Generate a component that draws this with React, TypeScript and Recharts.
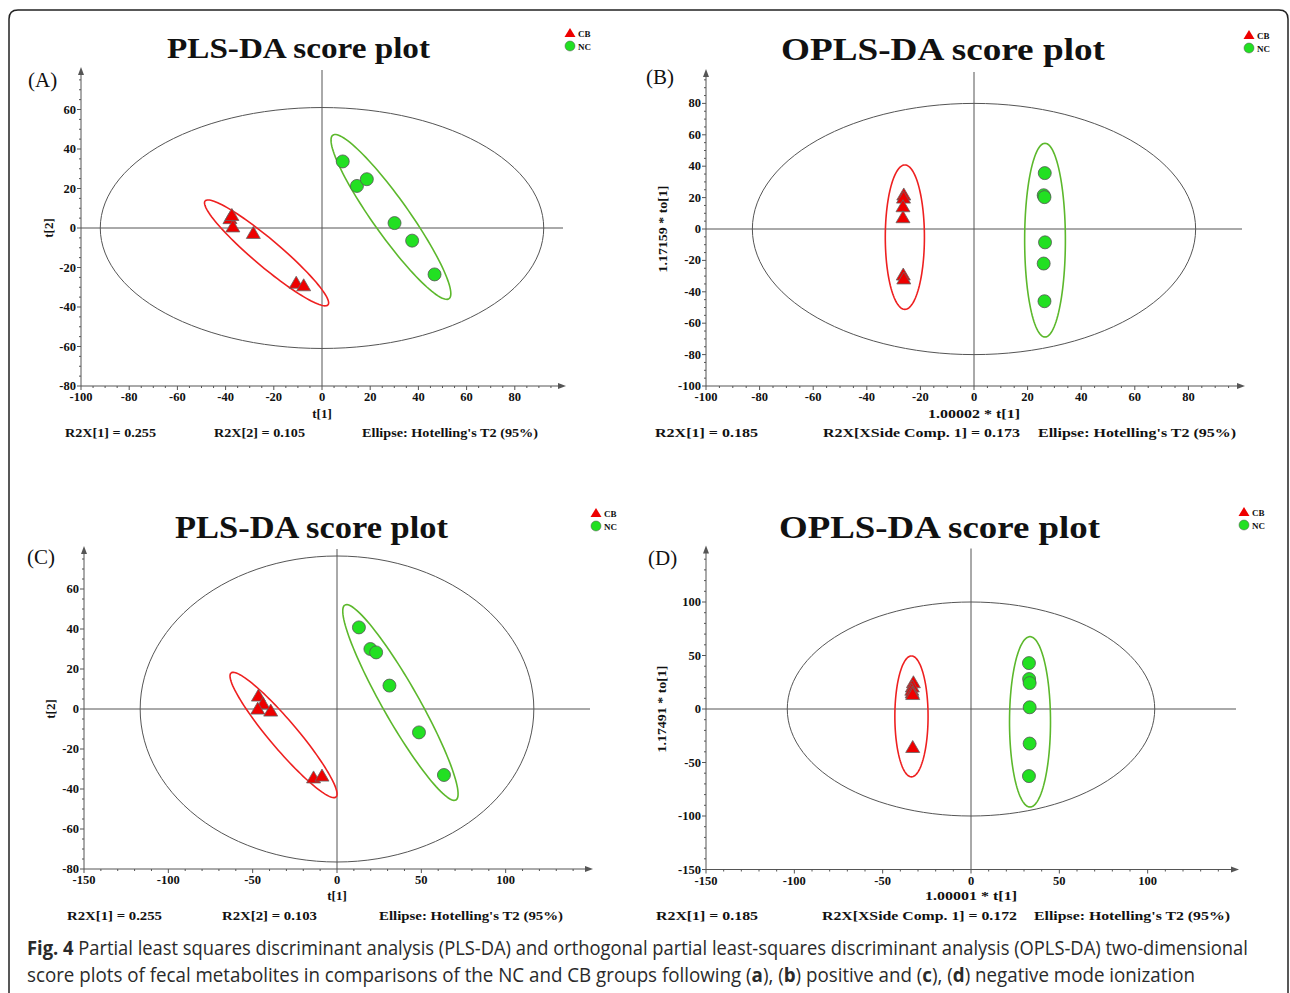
import React, { useLayoutEffect, useRef, useState } from 'react';
import { ScatterChart, Scatter, XAxis, YAxis, ReferenceLine, ReferenceDot } from 'recharts';

// ---------- DATA ----------
// Panel A: PLS-DA (positive)
const plsPosCB = [
  { x: -38.2, y: 5.0 }, { x: -37.4, y: 6.6 }, { x: -37.0, y: 0.8 },
  { x: -28.5, y: -2.5 }, { x: -10.7, y: -27.7 }, { x: -7.6, y: -29.0 },
];
const plsPosNC = [
  { x: 8.6, y: 33.7 }, { x: 14.5, y: 21.3 }, { x: 18.6, y: 24.7 },
  { x: 30.1, y: 2.5 }, { x: 37.4, y: -6.4 }, { x: 46.7, y: -23.5 },
];
// Panel B: OPLS-DA (positive)
const oplsPosCB = [
  { x: -26.2, y: 22.0 }, { x: -26.3, y: 20.0 }, { x: -26.5, y: 14.5 },
  { x: -26.5, y: 7.5 }, { x: -26.4, y: -29.0 }, { x: -26.2, y: -31.5 },
];
const oplsPosNC = [
  { x: 26.4, y: 35.6 }, { x: 26.0, y: 21.5 }, { x: 26.3, y: 20.3 },
  { x: 26.5, y: -8.5 }, { x: 26.0, y: -22.0 }, { x: 26.3, y: -46.0 },
];
// Panel C: PLS-DA (negative)
const plsNegCB = [
  { x: -46.6, y: 6.7 }, { x: -43.9, y: 2.8 }, { x: -47.0, y: 0.2 },
  { x: -39.3, y: -0.8 }, { x: -13.9, y: -34.2 }, { x: -8.9, y: -33.3 },
];
const plsNegNC = [
  { x: 13.0, y: 40.8 }, { x: 19.8, y: 30.0 }, { x: 23.2, y: 28.3 },
  { x: 31.1, y: 11.7 }, { x: 48.6, y: -11.7 }, { x: 63.4, y: -33.0 },
];
// Panel D: OPLS-DA (negative)
const oplsNegCB = [
  { x: -32.6, y: 25.0 }, { x: -33.2, y: 21.0 }, { x: -33.5, y: 18.0 },
  { x: -33.3, y: 15.5 }, { x: -33.0, y: 14.0 }, { x: -33.0, y: -35.5 },
];
const oplsNegNC = [
  { x: 32.8, y: 42.9 }, { x: 32.9, y: 28.0 }, { x: 33.2, y: 24.2 },
  { x: 33.2, y: 1.6 }, { x: 33.2, y: -32.3 }, { x: 32.8, y: -62.7 },
];

// Ellipses: centre + semi-axis vectors (data units)
const ellipsesA = [
  { cx: 0, cy: 0, ax: 92, ay: 0, bx: 0, by: 61, kind: 'all' },
  { cx: -23.0, cy: -12.6, ax: -25.5, ay: 26.3, bx: 3.6, by: 5.2, kind: 'cb' },
  { cx: 28.6, cy: 5.6, ax: -24.1, ay: 41.4, bx: 6.1, by: 5.25, kind: 'nc' },
];
const ellipsesB = [
  { cx: 0, cy: 0, ax: 82.7, ay: 0, bx: 0, by: 80, kind: 'all' },
  { cx: -25.8, cy: -5.2, ax: 0, ay: 46, bx: 7.3, by: 0, kind: 'cb' },
  { cx: 26.5, cy: -7.1, ax: 0, ay: 61.7, bx: 7.6, by: 0, kind: 'nc' },
];
const ellipsesC = [
  { cx: 0, cy: 0, ax: 116.7, ay: 0, bx: 0, by: 76.5, kind: 'all' },
  { cx: -31.7, cy: -13.0, ax: -31.1, ay: 31.0, bx: 6.3, by: 4.5, kind: 'cb' },
  { cx: 37.6, cy: 3.25, ax: -32.9, ay: 48.75, bx: 9.3, by: 4.45, kind: 'nc' },
];
const ellipsesD = [
  { cx: 0, cy: 0, ax: 104, ay: 0, bx: 0, by: 100, kind: 'all' },
  { cx: -33.7, cy: -6.9, ax: 0, ay: 56.5, bx: 9.4, by: 0, kind: 'cb' },
  { cx: 33.4, cy: -12.0, ax: 0, ay: 79.6, bx: 11.6, by: 0, kind: 'nc' },
];

// Major tick labels
const ticksX_A = [-100, -80, -60, -40, -20, 0, 20, 40, 60, 80];
const ticksY_A = [-80, -60, -40, -20, 0, 20, 40, 60];
const ticksX_B = [-100, -80, -60, -40, -20, 0, 20, 40, 60, 80];
const ticksY_B = [-100, -80, -60, -40, -20, 0, 20, 40, 60, 80];
const ticksX_C = [-150, -100, -50, 0, 50, 100];
const ticksY_C = [-80, -60, -40, -20, 0, 20, 40, 60];
const ticksX_D = [-150, -100, -50, 0, 50, 100];
const ticksY_D = [-150, -100, -50, 0, 50, 100];

// ---------- STYLE ----------
const SERIF = '"Liberation Serif", "Times New Roman", serif';
const AXIS = '#555';
const RED = '#ee0000';
const GREEN = '#22e022';
const ELL_COLOR: Record<string, string> = { all: '#555', cb: '#ee2020', nc: '#5cb82c' };
const ELL_WIDTH: Record<string, number> = { all: 1, cb: 1.6, nc: 1.6 };
const YW = 40; // y-axis width
const XH = 30; // x-axis height

function ellipsePts(e: any, n = 120) {
  const pts = [];
  for (let i = 0; i <= n; i++) {
    const t = (2 * Math.PI * i) / n;
    pts.push({ x: e.cx + e.ax * Math.cos(t) + e.bx * Math.sin(t), y: e.cy + e.ay * Math.cos(t) + e.by * Math.sin(t) });
  }
  return pts;
}

function minorTicks(domain: number[], step: number) {
  const out: number[] = [];
  for (let v = domain[0]; v < domain[1] - 1e-9; v += step) out.push(Math.round(v * 1000) / 1000);
  return out;
}

const makeXTick = (majors: number[]) => (p: any) => {
  const { x, y, payload } = p;
  const major = majors.includes(payload.value);
  return (
    <g>
      <line x1={x} x2={x} y1={y} y2={y + (major ? 4 : 2)} stroke={AXIS} strokeWidth={1} />
      {major && (
        <text x={x} y={y + 15} textAnchor="middle" fontFamily={SERIF} fontWeight="bold" fontSize={12.5} fill="#111">
          {payload.value}
        </text>
      )}
    </g>
  );
};
const makeYTick = (majors: number[]) => (p: any) => {
  const { x, y, payload } = p;
  const major = majors.includes(payload.value);
  return (
    <g>
      <line x1={x - (major ? 4 : 2)} x2={x} y1={y} y2={y} stroke={AXIS} strokeWidth={1} />
      {major && (
        <text x={x - 5} y={y + 4} textAnchor="end" fontFamily={SERIF} fontWeight="bold" fontSize={12.5} fill="#111">
          {payload.value}
        </text>
      )}
    </g>
  );
};

const Triangle = (p: any) => {
  const { cx, cy } = p;
  if (cx == null || cy == null) return <g />;
  return <polygon points={`${cx},${cy - 6.5} ${cx + 7},${cy + 5.5} ${cx - 7},${cy + 5.5}`} fill={RED} stroke="#666" strokeWidth={0.8} />;
};
const Dot = (p: any) => {
  const { cx, cy } = p;
  if (cx == null || cy == null) return <g />;
  return <circle cx={cx} cy={cy} r={6.5} fill={GREEN} stroke="#555" strokeWidth={0.8} />;
};
const NoShape = () => <g />;

const ArrowRight = (p: any) => <path d={`M${p.cx + 3},${p.cy} L${p.cx - 5},${p.cy - 3} L${p.cx - 5},${p.cy + 3} Z`} fill={AXIS} />;
const ArrowUp = (p: any) => <path d={`M${p.cx},${p.cy - 3} L${p.cx - 3},${p.cy + 5} L${p.cx + 3},${p.cy + 5} Z`} fill={AXIS} />;

type PanelProps = {
  left: number; top: number; width: number; height: number;
  plot: { top: number; right: number; bottom: number; left: number };
  xDomain: number[]; yDomain: number[]; xMajor: number[]; yMajor: number[];
  xStep: number; yStep: number; cb: any[]; nc: any[]; ellipses: any[];
};

function Panel(props: PanelProps) {
  const { left, top, width, height, plot, xDomain, yDomain, xMajor, yMajor, xStep, yStep, cb, nc, ellipses } = props;
  const margin = { top: plot.top, right: plot.right, bottom: plot.bottom - XH, left: plot.left - YW };
  return (
    <div style={{ position: 'absolute', left, top, width, height }}>
      <ScatterChart width={width} height={height} margin={margin}>
        <XAxis
          type="number" dataKey="x" domain={xDomain} allowDataOverflow
          ticks={minorTicks(xDomain, xStep)} interval={0} height={XH}
          tickSize={0} tickMargin={0} tickLine={false}
          axisLine={{ stroke: AXIS, strokeWidth: 1 }}
          tick={makeXTick(xMajor)}
        />
        <YAxis
          type="number" dataKey="y" domain={yDomain} allowDataOverflow
          ticks={minorTicks(yDomain, yStep)} interval={0} width={YW}
          tickSize={0} tickMargin={0} tickLine={false}
          axisLine={{ stroke: AXIS, strokeWidth: 1 }}
          tick={makeYTick(yMajor)}
        />
        <ReferenceLine x={0} stroke={AXIS} strokeWidth={1} />
        <ReferenceLine y={0} stroke={AXIS} strokeWidth={1} />
        {ellipses.map((e, i) => (
          <Scatter
            key={'e' + i} data={ellipsePts(e)} shape={NoShape}
            line={{ stroke: ELL_COLOR[e.kind], strokeWidth: ELL_WIDTH[e.kind], fill: 'none' }}
            lineType="joint" isAnimationActive={false}
          />
        ))}
        <Scatter data={cb} shape={Triangle} isAnimationActive={false} />
        <Scatter data={nc} shape={Dot} isAnimationActive={false} />
        <ReferenceDot x={xDomain[1]} y={yDomain[0]} r={0} shape={ArrowRight} ifOverflow="visible" />
        <ReferenceDot x={xDomain[0]} y={yDomain[1]} r={0} shape={ArrowUp} ifOverflow="visible" />
      </ScatterChart>
    </div>
  );
}

const T = (p: any) => <text fontFamily={SERIF} fill="#111" {...p} />;

function Legend({ x, y }: { x: number; y: number }) {
  return (
    <g>
      <polygon points={`${x},${y - 5} ${x + 5.5},${y + 4} ${x - 5.5},${y + 4}`} fill={RED} />
      <T x={x + 8} y={y + 3.5} fontSize={9} fontWeight="bold">CB</T>
      <circle cx={x} cy={y + 13} r={5} fill={GREEN} stroke="#555" strokeWidth={0.5} />
      <T x={x + 8} y={y + 16.5} fontSize={9} fontWeight="bold">NC</T>
    </g>
  );
}

function FitLine({ left, top, width, children }: { left: number; top: number; width: number; children: React.ReactNode }) {
  const ref = useRef<HTMLDivElement>(null);
  const [scale, setScale] = useState(1);
  useLayoutEffect(() => {
    if (ref.current) {
      const w = ref.current.scrollWidth;
      if (w > 0) setScale(width / w);
    }
  }, [width]);
  return (
    <div
      ref={ref}
      style={{
        position: 'absolute', left, top, whiteSpace: 'nowrap', fontFamily: '"Open Sans", sans-serif',
        fontSize: 19.5, lineHeight: '22px', color: '#2a2a2a', transform: `scaleX(${scale})`, transformOrigin: 'left top',
      }}
    >
      {children}
    </div>
  );
}

export default function App() {
  return (
    <div style={{ position: 'absolute', left: 0, top: 0, width: 1290, height: 993, background: '#fff', overflow: 'hidden' }}>
      <Panel left={0} top={0} width={640} height={470} plot={{ top: 70, right: 77, bottom: 84, left: 81 }}
        xDomain={[-100, 100]} yDomain={[-80, 80]} xMajor={ticksX_A} yMajor={ticksY_A} xStep={5} yStep={5}
        cb={plsPosCB} nc={plsPosNC} ellipses={ellipsesA} />
      <Panel left={640} top={0} width={650} height={470} plot={{ top: 72, right: 48, bottom: 84, left: 66 }}
        xDomain={[-100, 100]} yDomain={[-100, 100]} xMajor={ticksX_B} yMajor={ticksY_B} xStep={5} yStep={5}
        cb={oplsPosCB} nc={oplsPosNC} ellipses={ellipsesB} />
      <Panel left={0} top={470} width={640} height={470} plot={{ top: 79, right: 50, bottom: 71, left: 84 }}
        xDomain={[-150, 150]} yDomain={[-80, 80]} xMajor={ticksX_C} yMajor={ticksY_C} xStep={10} yStep={5}
        cb={plsNegCB} nc={plsNegNC} ellipses={ellipsesC} />
      <Panel left={640} top={470} width={650} height={470} plot={{ top: 78.5, right: 54, bottom: 70.5, left: 66 }}
        xDomain={[-150, 150]} yDomain={[-150, 150]} xMajor={ticksX_D} yMajor={ticksY_D} xStep={10} yStep={10}
        cb={oplsNegCB} nc={oplsNegNC} ellipses={ellipsesD} />

      <svg width={1290} height={993} style={{ position: 'absolute', left: 0, top: 0, pointerEvents: 'none' }}>
        <path d="M9,1000 L9,19 Q9,10 18,10 L1279,10 Q1288,10 1288,19 L1288,1000" fill="none" stroke="#222" strokeWidth={1.5} />

        {/* Titles */}
        <T x={167} y={58} fontSize={30} fontWeight="bold" textLength={263} lengthAdjust="spacingAndGlyphs">PLS-DA score plot</T>
        <T x={781} y={60} fontSize={32} fontWeight="bold" textLength={324} lengthAdjust="spacingAndGlyphs">OPLS-DA score plot</T>
        <T x={175} y={538} fontSize={31} fontWeight="bold" textLength={273} lengthAdjust="spacingAndGlyphs">PLS-DA score plot</T>
        <T x={779} y={538} fontSize={32} fontWeight="bold" textLength={321} lengthAdjust="spacingAndGlyphs">OPLS-DA score plot</T>

        {/* Panel letters */}
        <T x={28} y={87} fontSize={21}>(A)</T>
        <T x={646} y={84} fontSize={21}>(B)</T>
        <T x={27} y={564} fontSize={21}>(C)</T>
        <T x={648} y={565} fontSize={21}>(D)</T>

        {/* Legends */}
        <Legend x={570} y={33} />
        <Legend x={1249} y={35} />
        <Legend x={596} y={513} />
        <Legend x={1244} y={512} />

        {/* Axis titles */}
        <T x={322} y={418} fontSize={13} fontWeight="bold" textAnchor="middle">t[1]</T>
        <T x={974} y={418} fontSize={13} fontWeight="bold" textAnchor="middle" textLength={92} lengthAdjust="spacingAndGlyphs">1.00002 * t[1]</T>
        <T x={337} y={900} fontSize={13} fontWeight="bold" textAnchor="middle">t[1]</T>
        <T x={971} y={900} fontSize={13} fontWeight="bold" textAnchor="middle" textLength={92} lengthAdjust="spacingAndGlyphs">1.00001 * t[1]</T>
        <T x={0} y={0} fontSize={13} fontWeight="bold" textAnchor="middle" transform="translate(53,228) rotate(-90)">t[2]</T>
        <T x={0} y={0} fontSize={13} fontWeight="bold" textAnchor="middle" textLength={87} lengthAdjust="spacingAndGlyphs" transform="translate(667,229) rotate(-90)">1.17159 * to[1]</T>
        <T x={0} y={0} fontSize={13} fontWeight="bold" textAnchor="middle" transform="translate(55,709) rotate(-90)">t[2]</T>
        <T x={0} y={0} fontSize={13} fontWeight="bold" textAnchor="middle" textLength={87} lengthAdjust="spacingAndGlyphs" transform="translate(666,709) rotate(-90)">1.17491 * to[1]</T>

        {/* Stats */}
        <T x={65} y={437} fontSize={13} fontWeight="bold" textLength={91} lengthAdjust="spacingAndGlyphs">R2X[1] = 0.255</T>
        <T x={214} y={437} fontSize={13} fontWeight="bold" textLength={91} lengthAdjust="spacingAndGlyphs">R2X[2] = 0.105</T>
        <T x={362} y={437} fontSize={13} fontWeight="bold" textLength={176} lengthAdjust="spacingAndGlyphs">Ellipse: Hotelling's T2 (95%)</T>
        <T x={655} y={437} fontSize={13} fontWeight="bold" textLength={103} lengthAdjust="spacingAndGlyphs">R2X[1] = 0.185</T>
        <T x={823} y={437} fontSize={13} fontWeight="bold" textLength={197} lengthAdjust="spacingAndGlyphs">R2X[XSide Comp. 1] = 0.173</T>
        <T x={1038} y={437} fontSize={13} fontWeight="bold" textLength={198} lengthAdjust="spacingAndGlyphs">Ellipse: Hotelling's T2 (95%)</T>
        <T x={67} y={920} fontSize={13} fontWeight="bold" textLength={95} lengthAdjust="spacingAndGlyphs">R2X[1] = 0.255</T>
        <T x={222} y={920} fontSize={13} fontWeight="bold" textLength={95} lengthAdjust="spacingAndGlyphs">R2X[2] = 0.103</T>
        <T x={379} y={920} fontSize={13} fontWeight="bold" textLength={184} lengthAdjust="spacingAndGlyphs">Ellipse: Hotelling's T2 (95%)</T>
        <T x={656} y={920} fontSize={13} fontWeight="bold" textLength={102} lengthAdjust="spacingAndGlyphs">R2X[1] = 0.185</T>
        <T x={822} y={920} fontSize={13} fontWeight="bold" textLength={195} lengthAdjust="spacingAndGlyphs">R2X[XSide Comp. 1] = 0.172</T>
        <T x={1034} y={920} fontSize={13} fontWeight="bold" textLength={196} lengthAdjust="spacingAndGlyphs">Ellipse: Hotelling's T2 (95%)</T>
      </svg>

      <FitLine left={27} top={937} width={1221}>
        <b>Fig. 4</b> Partial least squares discriminant analysis (PLS-DA) and orthogonal partial least-squares discriminant analysis (OPLS-DA) two-dimensional
      </FitLine>
      <FitLine left={27} top={964} width={1168}>
        score plots of fecal metabolites in comparisons of the NC and CB groups following (<b>a</b>), (<b>b</b>) positive and (<b>c</b>), (<b>d</b>) negative mode ionization
      </FitLine>
    </div>
  );
}
